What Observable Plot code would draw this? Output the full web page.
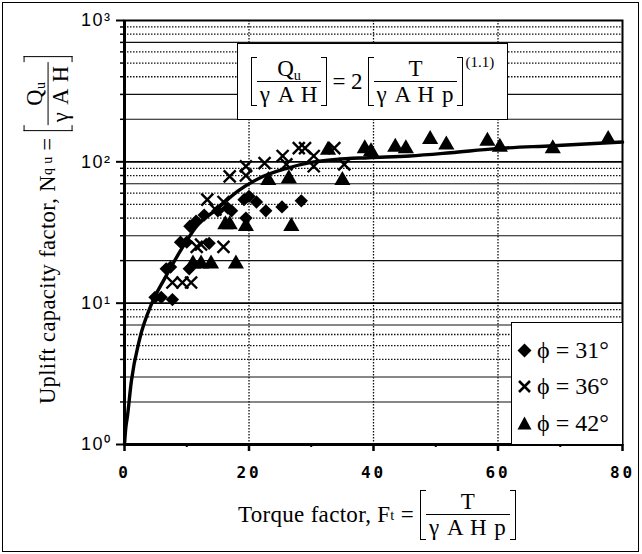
<!DOCTYPE html>
<html><head><meta charset="utf-8">
<script src="https://cdn.jsdelivr.net/npm/d3@7"></script>
<script src="https://cdn.jsdelivr.net/npm/@observablehq/plot@0.6"></script>
<style>
body{margin:0;background:#fff;}
#wrap{position:relative;width:642px;height:554px;overflow:hidden;background:#fff;}
#border{position:absolute;left:2px;top:2px;width:637px;height:550px;border:1.5px solid #000;box-sizing:border-box;pointer-events:none;}
.serif{font-family:"Liberation Serif","Times New Roman",serif;color:#000;}
.bk{display:inline-flex;align-items:stretch;vertical-align:middle;}
.lb{width:5px;border:1.8px solid #000;border-right:none;}
.rb{width:5px;border:1.8px solid #000;border-left:none;}
.frac{display:inline-flex;flex-direction:column;align-items:stretch;text-align:center;line-height:1.02;}
.frac .num{border-bottom:1.5px solid #000;padding:0 3px 1px 3px;}
.frac .den{padding:1px 3px 0 3px;letter-spacing:1px;}
sub{font-size:62%;vertical-align:-0.25em;line-height:0;}
#eq{position:absolute;left:237px;top:43px;width:271px;height:77px;border:1.6px solid #000;background:#fff;box-sizing:border-box;display:flex;align-items:center;justify-content:center;font-size:23px;white-space:nowrap;}
#legend{position:absolute;left:511px;top:322px;width:111px;height:122px;border-left:1.6px solid #000;border-top:1.6px solid #000;background:#fff;box-sizing:border-box;font-size:24px;padding:9px 0 0 5px;}
#legend div{height:36.5px;display:flex;align-items:center;white-space:nowrap;}
#legend svg{margin-right:5px;}
#xtitle{position:absolute;left:238px;top:490px;font-size:23px;white-space:nowrap;display:flex;align-items:center;letter-spacing:0.3px;}
#ytitle{position:absolute;left:48px;top:230px;transform:translate(-50%,-50%) rotate(-90deg);font-size:22.5px;white-space:nowrap;display:flex;align-items:center;letter-spacing:0.4px;}
svg [aria-label="x-axis tick label"] text{letter-spacing:3px;}
svg [aria-label="y-axis tick label"] text{letter-spacing:1.5px;}
</style></head>
<body>
<div id="wrap">
  <div id="chart"></div>
  <div id="eq" class="serif">
    <span class="bk"><span class="lb"></span><span class="frac"><span class="num">Q<sub>u</sub></span><span class="den">γ A H</span></span><span class="rb"></span></span>
    <span style="margin:0 5px">= 2</span>
    <span class="bk"><span class="lb"></span><span class="frac"><span class="num">T</span><span class="den">γ A H p</span></span><span class="rb"></span></span>
    <span style="font-size:15px;align-self:flex-start;margin-top:10px;margin-left:2px">(1.1)</span>
  </div>
  <div id="legend" class="serif"></div>
  <div id="xtitle" class="serif">Torque factor, F<sub>t</sub>&nbsp;=&nbsp;<span class="bk"><span class="lb"></span><span class="frac"><span class="num">T</span><span class="den">γ A H p</span></span><span class="rb"></span></span></div>
  <div id="ytitle" class="serif">Uplift capacity factor, N<sub>q u</sub>&nbsp;=&nbsp;<span class="bk"><span class="lb"></span><span class="frac"><span class="num">Q<sub>u</sub></span><span class="den">γ A H</span></span><span class="rb"></span></span></div>
  <div id="border"></div>
</div>
<script>
// ---- data ----
const diamX = [4.9, 5.9, 7.7, 6.7, 7.4, 9.0, 10.0, 10.5, 10.4, 12.8, 13.6, 11.5, 15.0, 16.6, 17.2, 19.2, 19.5, 20.0, 21.2, 22.7, 25.3, 28.4];
const diamY = [11, 11, 10.6, 17.5, 18, 27, 27, 35, 17.5, 42, 26.5, 38, 45, 47, 45, 54, 40, 57, 52, 45, 48, 53];

const crossX = [7.7, 9.3, 10.7, 11.6, 12.3, 15.9, 13.3, 14.6, 15.9, 16.9, 19.5, 19.5, 22.5, 25.4, 26.0, 28.0, 29.0, 30.4, 30.4, 33.7, 35.3];
const crossY = [14, 14, 14, 25, 26, 25, 54, 46, 52, 79, 93, 80, 98, 110, 96, 125, 125, 110, 93, 125, 96];

const triX = [11.0, 12.3, 13.9, 17.9, 16.2, 16.9, 19.5, 26.8, 23.1, 26.4, 35.0, 32.7, 38.6, 39.6, 43.5, 45.2, 49.1, 51.7, 58.3, 60.3, 68.8, 77.7];
const triY = [19, 19, 19, 19, 36, 36, 35, 35, 74, 76, 74, 121, 124, 118, 127, 124, 144, 132, 140, 127, 124, 144];

const curveX = [0, 0.2, 0.46, 1.1, 2.4, 4.4, 6.4, 9, 11.6, 14.9, 18.2, 21.5, 26.1, 30, 34, 39.2, 45.8, 52.4, 59.6, 68.8, 80];
const curveY = [1, 1.3, 1.57, 2.8, 5.5, 10, 14.8, 23.5, 35, 46.5, 62, 76, 90, 99, 104, 107, 110, 116, 124, 130, 138];

const seriesNames = ["ϕ = 31°", "ϕ = 36°", "ϕ = 42°"];
const xTicks = [0, 20, 40, 60, 80];
const xMinorTicks = [10, 30, 50, 70];
const xGrid = [20, 40, 60];
const yTicks = [1, 10, 100, 1000];
const yTickLabels = ["10⁰", "10¹", "10²", "10³"];
const yMinorSolid = [2, 3, 7, 20, 30, 70, 200, 300, 700];
const yMinorDotted = [4, 5, 6, 8, 9, 40, 50, 60, 80, 90, 400, 500, 600, 800, 900];
const yMinorTicks = [...yMinorSolid, ...yMinorDotted];

const pts = (xs, ys) => xs.map((x, i) => ({x, y: ys[i]}));
const diam = pts(diamX, diamY), cross = pts(crossX, crossY), tri = pts(triX, triY), curve = pts(curveX, curveY);

const chart = Plot.plot({
  width: 642, height: 554,
  marginLeft: 124, marginRight: 20, marginTop: 20, marginBottom: 110,
  style: {background: "transparent", color: "#000"},
  x: {domain: [0, 80]},
  y: {type: "log", domain: [1, 1000]},
  marks: [
    Plot.ruleY(yMinorSolid, {stroke: "#111", strokeWidth: 1.1}),
    Plot.ruleY(yMinorDotted, {stroke: "#111", strokeWidth: 1.3, strokeDasharray: "1.5,1.5"}),
    Plot.ruleY([10, 100], {stroke: "#000", strokeWidth: 1.8}),
    Plot.ruleX(xGrid, {stroke: "#111", strokeWidth: 1.3, strokeDasharray: "1.5,1.5"}),
    Plot.frame({stroke: "#000", strokeWidth: 2}),
    Plot.ruleX([0], {stroke: "#000", strokeWidth: 3}),
    Plot.ruleY([1], {stroke: "#000", strokeWidth: 3}),
    Plot.axisX({ticks: xTicks, tickSize: 7, tickPadding: 15, strokeWidth: 2.5, tickFormat: d => String(d),
      fontSize: 16, fontWeight: "bold", fontFamily: "DejaVu Sans Mono", label: null}),
    Plot.axisX({ticks: xMinorTicks, tickSize: 3, strokeWidth: 2, tickFormat: () => "", label: null}),
    Plot.axisY({ticks: yTicks, tickSize: 8, tickPadding: 5, strokeWidth: 2, tickFormat: d => yTickLabels[yTicks.indexOf(d)],
      fontSize: 18, fontFamily: "Liberation Sans", label: null}),
    Plot.axisY({ticks: yMinorTicks, tickSize: 4, strokeWidth: 1.5, tickFormat: () => "", label: null}),
    Plot.line(curve, {x: "x", y: "y", stroke: "#000", strokeWidth: 3.4, curve: "monotone-x"}),
    Plot.dot(diam, {x: "x", y: "y", symbol: "diamond2", r: 6, fill: "#000", stroke: "none"}),
    Plot.dot(cross, {x: "x", y: "y", symbol: "times", r: 5.5, stroke: "#000", strokeWidth: 2.4}),
    Plot.dot(tri, {x: "x", y: "y", symbol: "triangle", r: 6, fill: "#000", stroke: "none"})
  ]
});
document.getElementById("chart").appendChild(chart);

// legend
const legendShapes = [
  '<svg width="15" height="15" viewBox="-7.5 -7.5 15 15"><path d="M0,-7L7,0L0,7L-7,0Z" fill="#000"/></svg>',
  '<svg width="15" height="15" viewBox="-7.5 -7.5 15 15"><path d="M-5.5,-5.5L5.5,5.5M5.5,-5.5L-5.5,5.5" stroke="#000" stroke-width="2.6"/></svg>',
  '<svg width="15" height="15" viewBox="-7.5 -7.5 15 15"><path d="M0,-7L7,6L-7,6Z" fill="#000"/></svg>'
];
const lg = document.getElementById("legend");
seriesNames.forEach((n, i) => {
  const row = document.createElement("div");
  row.innerHTML = legendShapes[i] + "<span>" + n + "</span>";
  lg.appendChild(row);
});
</script>
</body></html>
